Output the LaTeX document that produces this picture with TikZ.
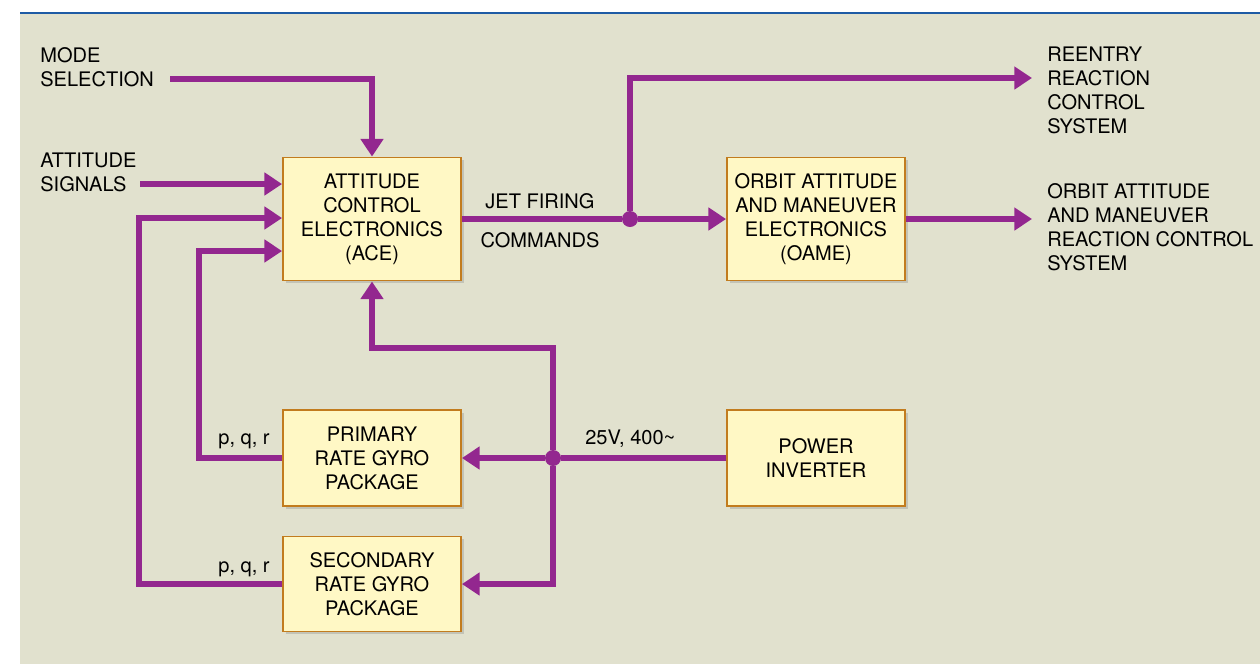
\documentclass[tikz,border=0pt]{standalone}
\usepackage{fontspec}
\setmainfont{TeX Gyre Heros}
\usetikzlibrary{arrows.meta,positioning,shadows}
\definecolor{panel}{HTML}{E1E1CE}
\definecolor{rule}{HTML}{1E5BA5}
\definecolor{sigline}{HTML}{93278F}
\definecolor{boxfill}{HTML}{FFF8C5}
\definecolor{boxline}{HTML}{C27C1E}

\begin{document}
\begin{tikzpicture}[x=0.02cm,y=-0.02cm,
every node/.style={font=\fontsize{11.4}{13.6}\selectfont},
box/.style={draw=boxline,fill=boxfill,line width=1.1pt,minimum width=3.56cm,
  align=center,inner sep=0pt,drop shadow={shadow xshift=1.6pt,shadow yshift=-1.6pt,opacity=.3}},
sig/.style={draw=sigline,line width=3pt},
arr/.style={sig,-{Triangle[length=10pt,width=12.5pt]}},
dot/.style={circle,fill=sigline,inner sep=0pt,minimum size=0.32cm},
lbl/.style={inner sep=0pt,align=left,anchor=north west}]
\useasboundingbox (0,0) rectangle (1260,664);
\fill[white] (0,0) rectangle (1260,664);
\fill[panel] (20,13) rectangle (1260,664);
\draw[rule,line width=1.2pt] (20,13) -- (1260,13);

\node[box,minimum height=2.46cm] (ace) at (372,219) {ATTITUDE\\CONTROL\\ELECTRONICS\\(ACE)};
\node[box,minimum height=2.46cm] (oame) at (816,219) {ORBIT ATTITUDE\\AND MANEUVER\\ELECTRONICS\\(OAME)};
\node[box,minimum height=1.92cm] (pri) at (372,458) {PRIMARY\\RATE GYRO\\PACKAGE};
\node[box,minimum height=1.9cm] (sec) at (372,584) {SECONDARY\\RATE GYRO\\PACKAGE};
\node[box,minimum height=1.92cm] (inv) at (816,458) {POWER\\INVERTER};

\node[lbl] (mode) at (40,47) {MODE\\SELECTION};
\node[lbl] (att) at (40,153) {ATTITUDE\\SIGNALS};
\node[lbl] (rcs) at (1047,47) {REENTRY\\REACTION\\CONTROL\\SYSTEM};
\node[lbl] (oams) at (1047,183) {ORBIT ATTITUDE\\AND MANEUVER\\REACTION CONTROL\\SYSTEM};
\node[inner sep=0pt,anchor=base] (jet) at (540,208) {JET FIRING};
\node[inner sep=0pt,anchor=base] (cmd) at (540,247) {COMMANDS};
\node[inner sep=0pt,anchor=base east] (prirates) at (270,444) {p, q, r};
\node[inner sep=0pt,anchor=base east] (secrates) at (270,572) {p, q, r};
\node[inner sep=0pt,anchor=base west] (volts) at (585,444) {25V, 400\textasciitilde};

\coordinate (modein) at (170,79);
\coordinate (attin) at (140,184);
\coordinate (secbus) at (139,218);
\coordinate (pribus) at (199,251);
\coordinate (acebus) at (372,348);
\coordinate (rcsin) at (1032,78);
\coordinate (oamsin) at (1032,219);
\node[dot] (split) at (630,219) {};
\node[dot] (feed) at (553,458) {};

\draw[arr] (modein) -| (ace.north);
\draw[arr] (attin) -- (attin -| ace.west);
\draw[arr] (sec.west) -| (secbus) -- (secbus -| ace.west);
\draw[arr] (pri.west) -| (pribus) -- (pribus -| ace.west);
\draw[sig] (ace.east) -- (split);
\draw[arr] (split) -- (oame.west);
\draw[arr] (split) |- (rcsin);
\draw[arr] (oame.east) -- (oamsin);
\draw[sig] (inv.west) -- (feed);
\draw[arr] (feed) -- (pri.east);
\draw[arr] (feed) |- (acebus) -- (ace.south);
\draw[arr] (feed) |- (sec.east);
\end{tikzpicture}
\end{document}
